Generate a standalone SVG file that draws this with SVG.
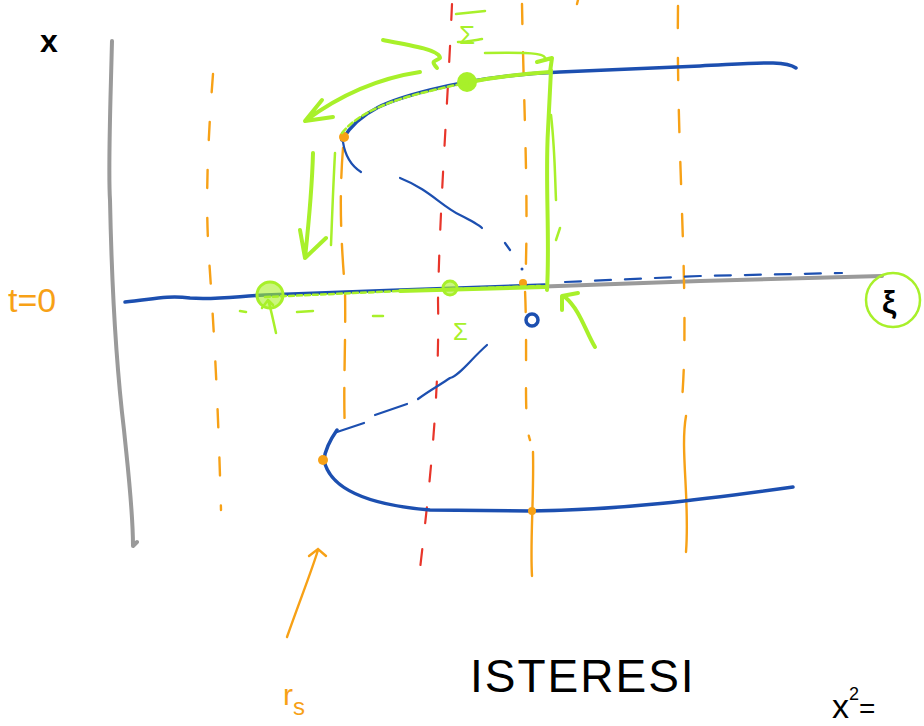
<svg xmlns="http://www.w3.org/2000/svg" width="924" height="726" viewBox="0 0 924 726">
<style>
.ax{fill:none;stroke:#9a9a9a;stroke-width:4;stroke-linecap:round;stroke-linejoin:round}
.bl{fill:none;stroke:#1c4fb0;stroke-width:3.5;stroke-linecap:round;stroke-linejoin:round}
.blt{fill:none;stroke:#1c4fb0;stroke-width:2.2;stroke-linecap:round}
.or{fill:none;stroke:#f7a116;stroke-width:2.4;stroke-linecap:round}
.rd{fill:none;stroke:#e8352a;stroke-width:2.2;stroke-linecap:round;stroke-dasharray:16 26}
.gr{fill:none;stroke:#a8f02a;stroke-width:4;stroke-linecap:round;stroke-linejoin:round}
.grt{fill:none;stroke:#a8f02a;stroke-width:2.5;stroke-linecap:round;stroke-linejoin:round}
.tx{font-family:"Liberation Sans","DejaVu Sans",sans-serif}
</style>
<g id="axes">
<path class="ax" d="M112,41 C110,120 108,170 110,200 C112,300 118,380 124,430 C128,470 133,510 133,546 L137,542"/>
<path class="ax" d="M530,287 L700,281 L882,276"/>
</g>
<g id="guides">
<path class="or" stroke-dasharray="18 30" d="M213,74 C208,140 205,200 209,258 C214,330 218,400 221,510"/>
<path class="or" stroke-dasharray="30 18" d="M343,148 C339,200 341,240 345,290 C346,340 343,390 345,430"/>
<path class="or" stroke-dasharray="20 28" d="M522,4 C524,120 529,200 525,290 C528,360 523,420 530,440"/>
<path class="or" d="M533,452 C534,500 530,540 532,576"/>
<path class="or" stroke-dasharray="22 30" d="M678,6 C676,150 690,300 682,400"/>
<path class="or" d="M686,416 C680,450 690,500 686,552"/>
<path class="or" d="M578,0 L577,4"/>
<path class="rd" d="M452,4 C448,100 440,200 438,300 C440,400 428,500 418,586"/>
</g>
<g id="curves">
<path class="bl" d="M125,302 C150,300 165,295 190,298 C215,300 240,296 265,295 L400,290 L545,285"/>
<path class="blt" stroke-dasharray="16 14" d="M565,282 L700,276 L842,273"/>
<path class="bl" d="M342,140 C360,110 390,100 430,90 C470,80 510,74 560,72 L700,66 C760,63 785,60 796,68"/>
<path class="blt" d="M343,142 C345,155 350,165 361,172"/>
<path class="blt" d="M400,178 C430,190 440,205 460,215 C470,220 478,224 482,228"/>
<path class="blt" d="M505,243 L510,250"/>
<path class="blt" d="M487,345 C470,360 460,375 450,378 C440,385 430,390 418,399"/>
<path class="blt" d="M375,415 L407,404"/>
<path class="blt" d="M337,432 L364,423"/>
<path class="bl" d="M337,430 C330,440 325,450 324,460 C330,490 370,505 430,510 L530,511 C620,510 700,500 793,487"/>
<circle cx="532" cy="320" r="6" class="bl" stroke-width="2.5"/>
<circle cx="522" cy="269" r="1.5" fill="#1c4fb0"/>
</g>
<g id="points">
<circle cx="344" cy="137" r="5" fill="#f7a116"/>
<circle cx="323" cy="460" r="5" fill="#f7a116"/>
<circle cx="532" cy="511" r="4" fill="#f7a116"/>
<circle cx="523" cy="283" r="4" fill="#f7a116"/>
<circle cx="467" cy="82" r="10" fill="#a8f02a"/>
<circle cx="270" cy="295" r="13" fill="#a8f02a" fill-opacity="0.6" stroke="#a8f02a" stroke-width="3"/>
<circle cx="450" cy="288" r="7" fill="#a8f02a" fill-opacity="0.6" stroke="#a8f02a" stroke-width="3"/>
</g>
<g id="arrows">
<path class="grt" stroke-dasharray="6 3" d="M342,133 C360,110 400,98 430,91 C450,86 460,84 468,83"/>
<path class="gr" d="M470,82 C500,76 520,74 550,72"/>
<path class="gr" d="M420,72 C380,78 340,95 305,121 M322,100 L305,121 L333,117"/>
<path class="gr" d="M313,153 C312,190 308,230 305,258 M300,230 L305,258 L326,238"/>
<path class="grt" d="M335,153 C333,190 332,220 331,245"/>
<path class="gr" stroke-width="5" d="M547,290 C550,240 545,180 548,130 C549,110 550,90 551,70 M537,62 L552,58 L550,72"/>
<path class="grt" d="M551,115 C555,150 555,180 556,200"/>
<path class="grt" d="M560,228 L556,240"/>
<path class="grt" d="M546,60 C545,54 540,52 485,53"/>
<path class="grt" d="M482,39 C470,41 465,42 458,42 M456,14 L485,11"/>
<path class="gr" stroke-width="3" d="M383,40 C410,45 440,50 440,58 C435,62 430,60 437,68"/>
<path class="grt" stroke-dasharray="5 3" d="M265,297 L400,291 L540,286"/>
<path class="gr" d="M400,291 L545,287"/>
<path class="gr" d="M595,347 C585,330 580,310 565,297 M562,310 L562,296 L578,293"/>
<path class="grt" d="M276,333 C272,315 270,305 268,300 M262,308 L268,300 L273,305"/>
<path class="grt" d="M297,312 L313,311 M240,311 L246,312 M373,316 L383,316"/>
<path class="or" stroke-width="3" d="M287,637 C300,600 312,570 318,550 M309,556 L318,549 L326,556"/>
<circle cx="893" cy="300" r="27" fill="none" stroke="#a8f02a" stroke-width="2.5"/>
</g>
<g id="labels">
<text class="tx" x="40" y="52" font-size="32" font-weight="bold" fill="#000">x</text>
<text class="tx" x="8" y="312" font-size="34" fill="#f7a116">t=0</text>
<text class="tx" x="882" y="313" font-size="32" font-weight="bold" fill="#000">ξ</text>
<text class="tx" x="459" y="44" font-size="26" fill="#a8f02a">Σ</text>
<text class="tx" x="453" y="340" font-size="24" fill="#a8f02a">Σ</text>
<text class="tx" x="283" y="705" font-size="30" fill="#f7a116">r<tspan font-size="24" dy="10">s</tspan></text>
<text class="tx" x="470" y="692" font-size="46" fill="#000" letter-spacing="2">ISTERESI</text>
<text class="tx" x="832" y="718" font-size="34" fill="#000">x<tspan font-size="18" dy="-18">2</tspan><tspan dy="18" font-size="28">=</tspan></text>
</g>
</svg>
